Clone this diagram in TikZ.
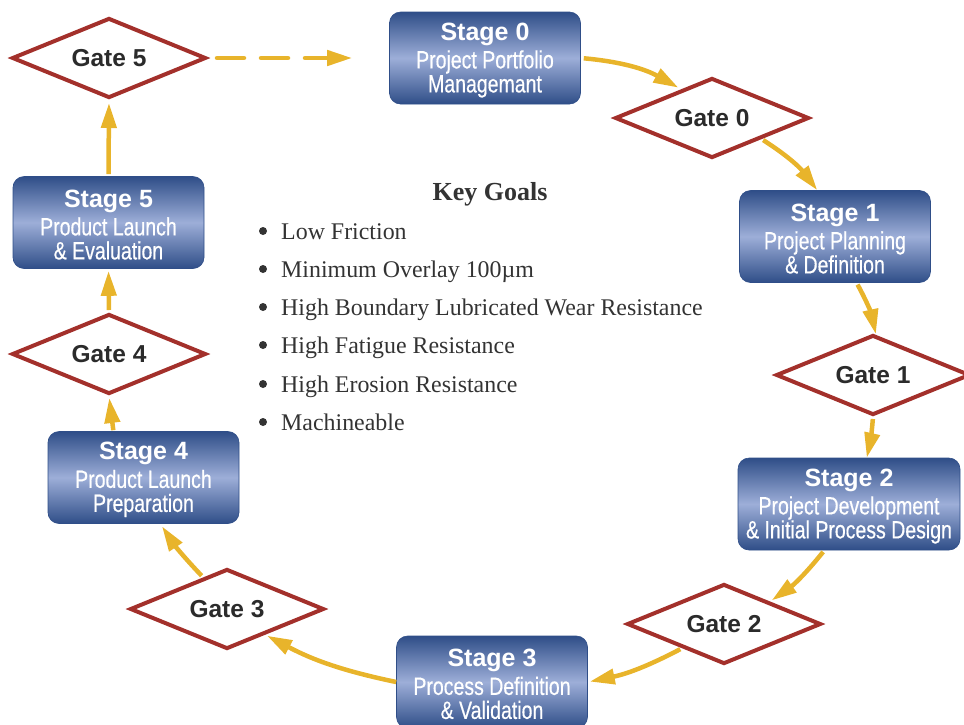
\documentclass[tikz,border=0pt]{standalone}
\usepackage{fontspec}
\setmainfont{Liberation Serif}
\newfontfamily\headsf{Liberation Sans}
\newfontfamily\condsf[FakeStretch=0.78,FakeBold=0.4]{Liberation Sans}
\usetikzlibrary{shapes.geometric,arrows.meta}
\definecolor{boxdark}{HTML}{2F4E88}
\definecolor{boxlight}{HTML}{9DAED8}
\definecolor{gatered}{HTML}{A3302B}
\definecolor{arrowgold}{HTML}{E8B42B}
\definecolor{gatetext}{HTML}{2B2B2B}
\definecolor{goaltext}{HTML}{333333}
\tikzset{
 stagebox/.style={rounded corners=11pt, minimum width=191pt, minimum height=92pt,
   top color=boxdark, bottom color=boxdark, middle color=boxlight, draw=boxdark,
   line width=0.6pt, text=white, align=center, inner sep=0pt,
   font=\condsf\fontsize{25}{24}\selectfont},
 gate/.style={diamond, aspect=2.35, draw=gatered, line width=4pt, fill=white,
   minimum width=194pt, minimum height=80pt, inner sep=0pt, text=gatetext,
   font=\headsf\bfseries\fontsize{24.5}{24}\selectfont},
 flow/.style={draw=arrowgold, line width=4.5pt, -{Triangle[length=25pt,width=15pt]}},
 goal/.style={anchor=base west, inner sep=0pt, text=goaltext,
   font=\fontsize{23.9}{24}\selectfont},
}
\newcommand\sttl[1]{\rule{0pt}{22pt}{\headsf\bfseries\fontsize{25}{25}\selectfont #1}\\[4pt]}
\begin{document}
\begin{tikzpicture}[x=1pt,y=1pt]
\useasboundingbox (0,0) rectangle (964,-724);
\clip (0,0) rectangle (964,-724);
% stages
\node[stagebox] (s0) at (485,-58) {\sttl{Stage 0}Project Portfolio\\Managemant};
\node[stagebox] (s1) at (835,-236.5) {\sttl{Stage 1}Project Planning\\\& Definition};
\node[stagebox, minimum width=222pt] (s2) at (849,-504) {\sttl{Stage 2}Project Development\\\& Initial Process Design};
\node[stagebox] (s3) at (492,-682) {\sttl{Stage 3}Process Definition\\\& Validation};
\node[stagebox] (s4) at (143.5,-477.5) {\sttl{Stage 4}Product Launch\\Preparation};
\node[stagebox] (s5) at (108.5,-222.5) {\sttl{Stage 5}Product Launch\\\& Evaluation};
% gates
\node[gate] (g0) at (712,-118) {Gate 0};
\node[gate] (g1) at (873,-375) {Gate 1};
\node[gate] (g2) at (724,-624) {Gate 2};
\node[gate] (g3) at (227,-609) {Gate 3};
\node[gate] (g4) at (109,-354) {Gate 4};
\node[gate] (g5) at (109,-58) {Gate 5};
% flow
\draw[flow, shorten <=3pt, shorten >=3pt] (s0.east) to[bend left=12] (g0.137);
\draw[flow, shorten <=2pt] (g0.-23) to[bend left=10] (s1.111);
\draw[flow, shorten <=2pt] (s1.-65) to[bend left=8] (g1.86);
\draw[flow, shorten <=2pt] (g1.south) to[bend left=4] (s2.69);
\draw[flow, shorten <=2pt, shorten >=2pt] (s2.-118) to[bend left=8] (g2.26);
\draw[flow, shorten <=2pt, shorten >=2pt] (g2.210) to[bend left=8] (s3.east);
\draw[flow, shorten >=2pt] (s3.west) to[bend left=8] (g3.-34);
\draw[flow, shorten <=2pt, shorten >=3pt] (g3.127) to[bend left=5] (s4.-70);
\draw[flow, shorten <=1pt, shorten >=2pt] (s4.123) -- (g4.south);
\draw[flow, shorten <=2pt, shorten >=2pt] (g4.north) -- (s5.south);
\draw[flow, shorten <=2pt, shorten >=3pt] (s5.north) -- (g5.south);
\draw[flow, line cap=round, dash pattern=on 27pt off 17pt, shorten <=9pt, shorten >=37pt] (g5.east) -- (s0.west);
% key goals
\node[anchor=base, inner sep=0pt, text=goaltext, font=\bfseries\fontsize{26}{26}\selectfont] (kg) at (490,-200) {Key Goals};
\node[goal] (k1) at (281,-239) {Low Friction};
\node[goal] (k2) at (281,-277) {Minimum Overlay 100µm};
\node[goal] (k3) at (281,-315) {High Boundary Lubricated Wear Resistance};
\node[goal] (k4) at (281,-353) {High Fatigue Resistance};
\node[goal] (k5) at (281,-392) {High Erosion Resistance};
\node[goal] (k6) at (281,-430) {Machineable};
\foreach \y in {-231,-269,-307,-345,-384,-422}
  \fill[goaltext] (263,\y) circle (4pt);
\end{tikzpicture}
\end{document}
